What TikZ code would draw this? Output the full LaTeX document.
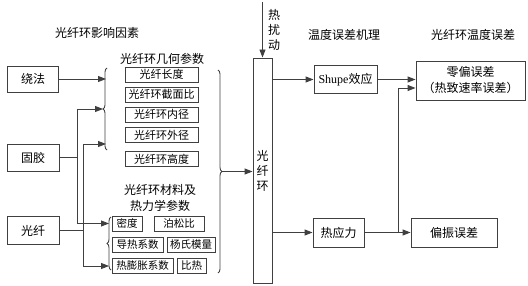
\documentclass[tikz,border=0pt]{standalone}
\usepackage{fontspec}
\setmainfont{Noto Sans CJK SC}
\newfontfamily\latinfont{Liberation Serif}
\usetikzlibrary{arrows.meta,decorations.pathreplacing}
\definecolor{linegray}{RGB}{64,64,64}

\begin{document}
\begin{tikzpicture}[x=1pt, y=-1pt, every node/.style={font=\fontsize{12pt}{15pt}\selectfont},
  box/.style={draw=linegray, line width=0.9pt, inner sep=0pt},
  geobox/.style={box, minimum width=73pt, minimum height=15pt, font=\fontsize{11pt}{13pt}\selectfont},
  matbox/.style={box, minimum height=15pt, font=\fontsize{10.5pt}{12pt}\selectfont},
  ln/.style={draw=linegray, line width=0.9pt},
  arr/.style={ln, -{Triangle[length=8pt,width=6pt]}},
  brc/.style={ln, decorate, decoration={brace, amplitude=4pt}}]
\useasboundingbox (0,0) rectangle (528,286);
% titles
\node (tinfl) at (97,33) {光纤环影响因素};
\node (tgeo) at (162,59) {光纤环几何参数};
\node[align=center, font=\fontsize{12pt}{16pt}\selectfont] (tmat) at (160,198) {光纤环材料及\\热力学参数};
\node (tmech) at (344,35) {温度误差机理};
\node (terr) at (473,35) {光纤环温度误差};
% influence factors
\node[box, minimum width=51pt, minimum height=26pt] (wind) at (33,79) {绕法};
\node[box, minimum width=52pt, minimum height=27pt] (glue) at (33,157.5) {固胶};
\node[box, minimum width=52pt, minimum height=28pt] (fiber) at (33,230.5) {光纤};
% geometry parameters
\foreach \n/\txt/\y in {g1/光纤长度/74.5, g2/光纤环截面比/94.5, g3/光纤环内径/114.5,
  g4/光纤环外径/135, g5/光纤环高度/159}
  \node[geobox] (\n) at (161.5,\y) {\txt};
% material parameters
\foreach \n/\txt/\x/\y/\w in {m1/密度/127/223.5/30, m2/泊松比/179/223.5/50,
  m3/导热系数/137.5/245/51, m4/杨氏模量/191/245/48,
  m5/热膨胀系数/142.5/266/61, m6/比热/191.5/266/29}
  \node[matbox, minimum width=\w pt] (\n) at (\x,\y) {\txt};
% braces
\draw[brc] (107,150) -- (107,68);
\draw[brc] (111,270) -- (111,217);
\draw[brc] (218,70) -- (218,273);
\coordinate (geoin) at (106,0);
\coordinate (geotip) at (103,109);
\coordinate (matin) at (109,0);
\coordinate (bigtip) at (222,171.5);
% fiber ring
\node[box, minimum width=19pt, minimum height=225pt, align=center] (ring) at (262.5,170.5) {光\\纤\\环};
\node[align=center] (dist) at (274,30) {热\\扰\\动};
\coordinate (disttop) at (262.5,2);
% mechanisms and errors
\node[box, minimum width=63pt, minimum height=28pt] (shupe) at (345.5,79.5) {{\latinfont Shupe}效应};
\node[box, minimum width=51pt, minimum height=29pt] (stress) at (338.5,232.5) {热应力};
\node[box, minimum width=109pt, minimum height=39pt, align=center,
  font=\fontsize{12pt}{16pt}\selectfont] (zero) at (470.5,80.5) {零偏误差\\（热致速率误差）};
\node[box, minimum width=86pt, minimum height=29pt] (polar) at (454,232.5) {偏振误差};
% connectors
\draw[arr] (wind.east) -- (wind.east -| geoin);
\path (glue.east) ++(18,0) coordinate (jg);
\draw[arr] (glue.east) -- (jg) |- (geotip);
\draw[arr] (jg) |- (matin |- m1);
\path (fiber.east) ++(24,0) coordinate (jf);
\draw[arr] (fiber.east) -- (jf) |- (geoin |- 0,144);
\draw[arr] (jf) |- (matin |- m5);
\draw[arr] (bigtip) -- (ring.west |- bigtip);
\draw[arr] (disttop) -- (ring.north);
\draw[arr] (ring.east |- shupe) -- (shupe.west);
\draw[arr] (shupe.east) -- (shupe.east -| zero.west);
\draw[arr] (ring.east |- stress) -- (stress.west);
\draw[arr] (stress.east) -- (polar.west);
\coordinate (jz) at (398,232.5);
\coordinate (jzup) at (398,88);
\draw[arr] (jz) -- (jzup) -- (jzup -| zero.west);
\end{tikzpicture}
\end{document}
